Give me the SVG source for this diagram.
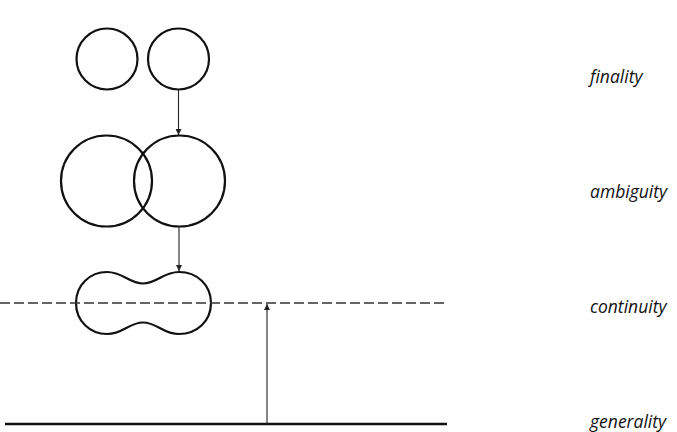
<svg xmlns="http://www.w3.org/2000/svg" width="677" height="432" viewBox="0 0 677 432">
<defs>
<style>
.shape{fill:none;stroke:#111;stroke-width:2.2}
.conn{fill:none;stroke:#222;stroke-width:1.1}
.dash{fill:none;stroke:#333;stroke-width:1.3;stroke-dasharray:10 4}
.base{fill:none;stroke:#111;stroke-width:2.6}
.lbl{font-family:"Open Sans","Noto Sans",sans-serif;font-style:italic;font-size:17.5px;fill:#111}
</style>
<marker id="ah" viewBox="0 0 8 8" refX="8" refY="4" markerWidth="6" markerHeight="6" markerUnits="userSpaceOnUse" orient="auto">
<path d="M0,0 L8,4 L0,8 Z" fill="#222"/>
</marker>
</defs>
<rect width="677" height="432" fill="#fff"/>
<g id="finality-left"><circle class="shape" cx="107" cy="59" r="30.5"/></g>
<g id="finality-right"><circle class="shape" cx="178.5" cy="59" r="30.5"/></g>
<g id="ambiguity-left"><circle class="shape" cx="106.5" cy="181" r="45.5"/></g>
<g id="ambiguity-right"><circle class="shape" cx="179.5" cy="181" r="45.5"/></g>
<g id="continuity-blob"><path class="shape" d="M76,303 C76,285 90,272 107,272 C123,272 129,283.5 143,283.5 C157,283.5 163,272 179,272 C197,272 211,285 211,303 C211,321 197,334 179,334 C163,334 157,322.5 143,322.5 C129,322.5 123,334 107,334 C90,334 76,321 76,303 Z"/></g>
<g id="continuity-line"><line class="dash" x1="0" y1="303" x2="447" y2="303"/></g>
<g id="generality-line"><line class="base" x1="5" y1="424" x2="447" y2="424"/></g>
<g id="connectors">
<line class="conn" x1="178.5" y1="90" x2="178.5" y2="135" marker-end="url(#ah)"/>
<line class="conn" x1="179" y1="227" x2="179" y2="271" marker-end="url(#ah)"/>
<line class="conn" x1="267" y1="423" x2="267" y2="304" marker-end="url(#ah)"/>
</g>
<g id="labels">
<text class="lbl" x="590" y="83">finality</text>
<text class="lbl" x="590" y="198">ambiguity</text>
<text class="lbl" x="590" y="313">continuity</text>
<text class="lbl" x="590" y="428">generality</text>
</g>
</svg>
